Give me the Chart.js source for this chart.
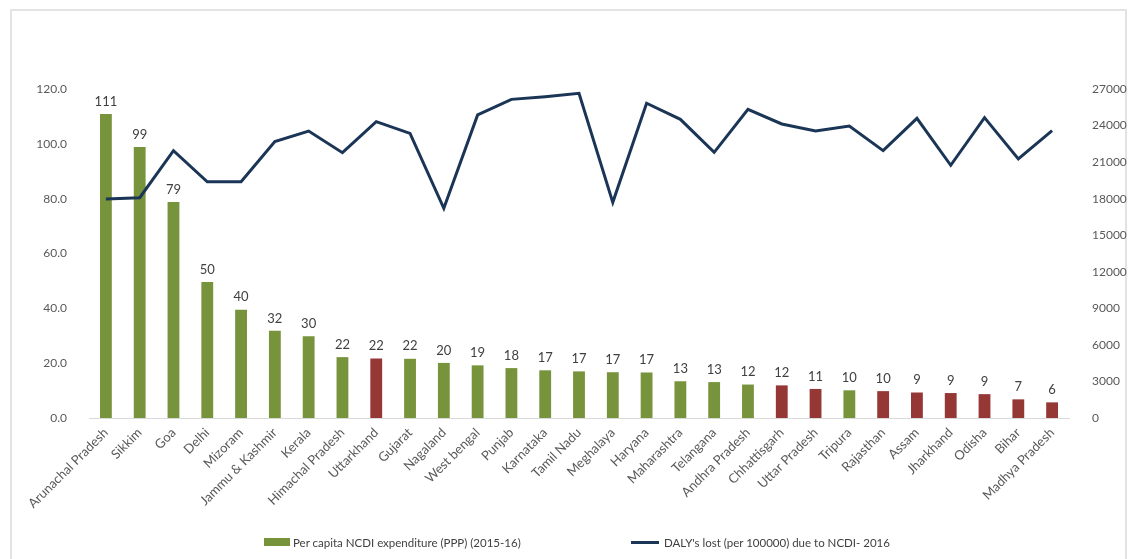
<!DOCTYPE html>
<html>
<head>
<meta charset="utf-8">
<script src="https://cdn.jsdelivr.net/npm/chart.js@4.4.1/dist/chart.umd.min.js"></script>
<style>
  html, body { margin: 0; padding: 0; background: #fff; }
  body { width: 1134px; height: 559px; position: relative; overflow: hidden; font-family: Lato, "Open Sans", sans-serif; }
  #frame { position: absolute; left: 10px; top: 9px; width: 1117px; height: 600px; border: 2px solid #e3e3e3; box-sizing: border-box; }
  #wrap { position: absolute; left: 0; top: 0; width: 1134px; height: 559px; }
  #legend { position: absolute; top: 534px; left: 0; width: 1134px; height: 16px; font-size: 11.5px; color: #404040; }
  .item { position: absolute; top: 0; display: flex; align-items: center; height: 16px; white-space: nowrap; }
  .sw-bar { width: 26px; height: 8px; background: #77933C; margin-right: 3px; }
  .sw-line { width: 28px; height: 3px; background: #1B3556; margin-right: 5px; }
</style>
</head>
<body>
<div id="frame"></div>
<div id="wrap"><canvas id="c" width="1134" height="559"></canvas></div>
<div id="legend">
  <div class="item" style="left:264px"><span class="sw-bar"></span><span id="lg1"></span></div>
  <div class="item" style="left:631px"><span class="sw-line"></span><span id="lg2"></span></div>
</div>
<script>
const states = ["Arunachal Pradesh","Sikkim","Goa","Delhi","Mizoram","Jammu & Kashmir","Kerala","Himachal Pradesh","Uttarkhand","Gujarat","Nagaland","West bengal","Punjab","Karnataka","Tamil Nadu","Meghalaya","Haryana","Maharashtra","Telangana","Andhra Pradesh","Chhattisgarh","Uttar Pradesh","Tripura","Rajasthan","Assam","Jharkhand","Odisha","Bihar","Madhya Pradesh"];
const expenditure = [110.9,98.8,78.8,49.6,39.5,31.8,29.8,22.2,21.7,21.6,20.1,19.2,18.2,17.4,17.0,16.7,16.6,13.4,13.1,12.2,11.9,10.6,10.1,9.8,9.3,9.1,8.7,6.8,5.7];
const dalys = [17970,18080,21940,19390,19390,22680,23550,21770,24320,23360,17210,24870,26150,26370,26650,17700,25830,24510,21800,25330,24130,23550,23960,21940,24590,20740,24650,21260,23580];
const highlighted = ["Uttarkhand","Chhattisgarh","Uttar Pradesh","Rajasthan","Assam","Jharkhand","Odisha","Bihar","Madhya Pradesh"];
const leftTicks = [0,20,40,60,80,100,120];
const rightTicks = [0,3000,6000,9000,12000,15000,18000,21000,24000,27000];
const seriesNames = ["Per capita NCDI expenditure (PPP) (2015-16)", "DALY's lost (per 100000) due to NCDI- 2016"];

document.getElementById('lg1').textContent = seriesNames[0];
document.getElementById('lg2').textContent = seriesNames[1];

const GREEN = '#77933C', RED = '#953735', NAVY = '#1B3556';
const barColors = states.map(s => highlighted.includes(s) ? RED : GREEN);

const barLabels = {
  id: 'barLabels',
  afterDatasetsDraw(chart) {
    const meta = chart.getDatasetMeta(1);
    const ctx = chart.ctx;
    ctx.save();
    ctx.font = '13px Lato, "Open Sans", sans-serif';
    ctx.fillStyle = '#404040';
    ctx.textAlign = 'center';
    ctx.textBaseline = 'bottom';
    meta.data.forEach((el, i) => {
      ctx.fillText(String(Math.round(expenditure[i])), el.x, el.y - 6);
    });
    ctx.restore();
  }
};

new Chart(document.getElementById('c'), {
  data: {
    labels: states,
    datasets: [
      { type: 'line', label: seriesNames[1], data: dalys, yAxisID: 'y1', borderColor: NAVY, borderWidth: 3, pointRadius: 0, tension: 0, order: 0, fill: false },
      { type: 'bar', label: seriesNames[0], data: expenditure, yAxisID: 'y', backgroundColor: barColors, categoryPercentage: 1, barPercentage: 0.35, order: 1 }
    ]
  },
  options: {
    responsive: false,
    animation: false,
    layout: { padding: { left: 0, right: 0, top: 89, bottom: 30 } },
    plugins: { legend: { display: false }, tooltip: { enabled: false } },
    scales: {
      x: {
        grid: { display: false, drawTicks: false },
        border: { display: true, color: '#d9d9d9', width: 1 },
        ticks: { minRotation: 45, maxRotation: 45, autoSkip: false, color: '#595959', font: { family: 'Lato', size: 13 }, padding: 7 },
        afterFit(s) { s.height = 111; }
      },
      y: {
        position: 'left', min: 0, max: 120,
        afterBuildTicks(s) { s.ticks = leftTicks.map(v => ({ value: v })); },
        grid: { display: false },
        border: { display: false },
        ticks: { color: '#595959', font: { family: 'Lato', size: 12 }, padding: 14, callback: v => Number(v).toFixed(1) },
        afterFit(s) { s.width = 89; }
      },
      y1: {
        position: 'right', min: 0, max: 27000,
        afterBuildTicks(s) { s.ticks = rightTicks.map(v => ({ value: v })); },
        grid: { display: false },
        border: { display: false },
        ticks: { color: '#595959', font: { family: 'Lato', size: 12 }, padding: 15, callback: v => String(v) },
        afterFit(s) { s.width = 65; }
      }
    }
  },
  plugins: [barLabels]
});
</script>
</body>
</html>
